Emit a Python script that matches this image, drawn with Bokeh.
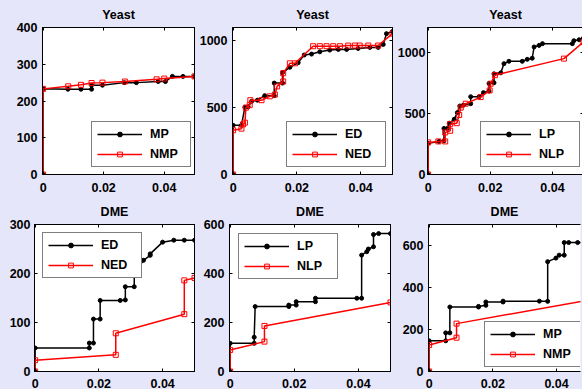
from bokeh.plotting import figure
from bokeh.layouts import column, row
from bokeh.models import (FixedTicker, LinearAxis, Legend, LegendItem, Range1d,
                          GlobalInlineStyleSheet, CustomJSTickFormatter)
from bokeh.embed import file_html
from bokeh.resources import INLINE

FONT = "Liberation Sans"
BG = "#e6e6fa"

# ---------------- data ----------------
# Yeast: MP vs NMP
y_mp_x = [0, 0, 0.0082, 0.0125, 0.016, 0.016, 0.0196, 0.0268, 0.0308, 0.038, 0.0404, 0.0427, 0.0462, 0.05]
y_mp_y = [0, 233, 232, 232, 232, 243, 243, 250, 250, 253, 253, 267, 267, 267]
y_nmp_x = [0, 0, 0.0083, 0.0125, 0.016, 0.0196, 0.027, 0.0375, 0.04, 0.05]
y_nmp_y = [0, 233, 240, 244, 249, 250, 253, 259, 261, 267]

# Yeast: ED vs NED
y_ed_x = [0, 0, 0.0026, 0.0037, 0.0047, 0.0058, 0.0076, 0.0099, 0.0129, 0.0129,
          0.0155, 0.0155, 0.0178, 0.0204, 0.0223, 0.0246, 0.0272, 0.0303, 0.033, 0.0356,
          0.0392, 0.0429, 0.0455, 0.0471, 0.0481, 0.05]
y_ed_y = [0, 368, 368, 504, 507, 548, 556, 590, 590, 684,
          684, 763, 802, 837, 894, 901, 918, 931, 936, 936,
          943, 951, 951, 973, 1054, 1070]
y_ned_x = [0, 0, 0.0026, 0.0031, 0.0037, 0.004, 0.0052, 0.0054, 0.0089, 0.0115,
           0.0131, 0.0138, 0.0157, 0.0157, 0.0178, 0.0194, 0.0251, 0.0272, 0.0293, 0.0314,
           0.0335, 0.0361, 0.0382, 0.0397, 0.0424, 0.0455, 0.05]
y_ned_y = [0, 331, 343, 375, 388, 500, 519, 556, 556, 585,
           598, 659, 696, 758, 832, 832, 960, 960, 960, 960,
           960, 965, 965, 965, 965, 965, 1054]

# Yeast: LP vs NLP
y_lp_x = [0, 0, 0.0035, 0.0051, 0.0051, 0.0062, 0.0068, 0.0084, 0.0094, 0.0102,
          0.0113, 0.0137, 0.0137, 0.0164, 0.0178, 0.0196, 0.0196, 0.0212, 0.0212, 0.0234,
          0.0244, 0.026, 0.0303, 0.0319, 0.0335, 0.0341, 0.0357, 0.0368, 0.0464, 0.0469,
          0.0486, 0.05]
y_lp_y = [0, 254, 270, 275, 376, 376, 419, 451, 505, 559,
          565, 578, 635, 635, 668, 681, 743, 749, 822, 830,
          905, 924, 924, 940, 949, 1041, 1054, 1068, 1068, 1092,
          1100, 1114]
y_nlp_x = [0, 0, 0.0033, 0.0055, 0.0055, 0.0071, 0.0071, 0.0092, 0.01, 0.0105,
           0.0121, 0.0169, 0.0198, 0.0201, 0.0215, 0.0437, 0.05]
y_nlp_y = [0, 262, 270, 270, 343, 357, 411, 419, 486, 546,
           578, 632, 686, 741, 811, 946, 1081]

# DME: ED vs NED
d_ed_x = [0, 0, 0.017, 0.017, 0.0183, 0.0183, 0.0204, 0.0204, 0.0267, 0.0283,
          0.0283, 0.0311, 0.0311, 0.034, 0.0361, 0.0361, 0.04, 0.0435, 0.0468, 0.05]
d_ed_y = [0, 48, 48, 58, 58, 107, 107, 145, 145, 146,
          173, 173, 200, 227, 237, 240, 264, 268, 268, 268]
d_ned_x = [0, 0, 0.0253, 0.0253, 0.0468, 0.0468, 0.05]
d_ned_y = [0, 23, 34, 78, 117, 186, 191]

# DME: LP vs NLP
d_lp_x = [0, 0, 0.0075, 0.0075, 0.0078, 0.0183, 0.0183, 0.0206, 0.0206, 0.0266,
          0.0266, 0.0395, 0.041, 0.041, 0.0426, 0.0431, 0.0447, 0.0447, 0.0463, 0.05]
d_lp_y = [0, 115, 115, 140, 265, 265, 271, 271, 285, 285,
          299, 299, 299, 475, 489, 500, 509, 559, 563, 563]
d_nlp_x = [0, 0, 0.0107, 0.0107, 0.05]
d_nlp_y = [0, 88, 122, 186, 282]

# DME: MP vs NMP
d_mp_x = [0, 0, 0.0052, 0.0052, 0.0065, 0.0065, 0.0155, 0.0155, 0.0178, 0.0178,
          0.0232, 0.0232, 0.0346, 0.0372, 0.0372, 0.0398, 0.0408, 0.0424, 0.0424, 0.0438,
          0.0466, 0.05]
d_mp_y = [0, 146, 146, 184, 184, 307, 307, 310, 315, 331,
          331, 335, 335, 334, 523, 540, 554, 554, 614, 614,
          614, 614]
d_nmp_x = [0, 0, 0.0086, 0.0086, 0.05]
d_nmp_y = [0, 126, 161, 228, 340]

x_ticks = [0, 0.02, 0.04]


def style_axis(ax, ticks, show_labels, standoff=5, xfmt=False):
    ax.ticker = FixedTicker(ticks=ticks)
    ax.major_tick_in = 3
    ax.major_tick_out = 0
    ax.minor_tick_line_color = None
    ax.axis_line_color = "black"
    ax.axis_line_width = 1
    ax.major_tick_line_color = "black"
    ax.major_label_text_font = FONT
    ax.major_label_text_font_style = "bold"
    ax.major_label_text_font_size = "12.5px"
    if show_labels:
        ax.major_label_text_color = "black"
        ax.major_label_standoff = standoff
    else:
        ax.major_label_text_color = None
        ax.major_label_standoff = 0
    if xfmt:
        ax.formatter = CustomJSTickFormatter(code="return Math.abs(tick) < 1e-9 ? '0' : tick.toFixed(2);")


def panel(title, x1, y1, l1, x2, y2, l2, xend, yend, yticks, fw, bl, tb, bb,
          loc, tstand, ystand=5, xstand=8, open_right=False):
    p = figure(frame_width=fw, frame_height=147,
               x_range=Range1d(-0.0002, xend), y_range=Range1d(0, yend),
               output_backend="svg", toolbar_location=None,
               min_border_left=bl, min_border_right=2,
               min_border_top=tb, min_border_bottom=bb,
               background_fill_color="white", border_fill_color=BG,
               outline_line_color=None if open_right else "black")
    p.grid.visible = False
    p.title.text = title
    p.title.align = "center"
    p.title.text_font = FONT
    p.title.text_font_style = "bold"
    p.title.text_font_size = "12.5px"
    p.title.text_color = "black"
    p.title.standoff = tstand

    style_axis(p.xaxis[0], x_ticks, True, xstand, xfmt=True)
    style_axis(p.yaxis[0], yticks, True, ystand)
    top = LinearAxis()
    style_axis(top, x_ticks, False)
    p.add_layout(top, "above")
    if not open_right:
        right = LinearAxis()
        style_axis(right, yticks, False)
        p.add_layout(right, "right")

    r1 = p.line(x1, y1, line_color="black", line_width=1.5)
    s1 = p.scatter(x1, y1, marker="circle", size=4, fill_color="black", line_color="black")
    r2 = p.line(x2, y2, line_color="red", line_width=1.5)
    s2 = p.scatter(x2, y2, marker="square", size=5, fill_color=None, line_color="red", line_width=1)

    leg = Legend(items=[LegendItem(label=l1, renderers=[r1, s1]),
                        LegendItem(label=l2, renderers=[r2, s2])],
                 location=loc, margin=0, padding=5, spacing=6,
                 glyph_width=45, glyph_height=12, label_height=12,
                 label_width=35, label_standoff=8,
                 label_text_font=FONT, label_text_font_style="bold",
                 label_text_font_size="12.5px", label_text_color="black",
                 border_line_color="black", border_line_width=1,
                 background_fill_color="white", background_fill_alpha=1)
    p.add_layout(leg)
    return p


f1 = panel("Yeast", y_mp_x, y_mp_y, "MP", y_nmp_x, y_nmp_y, "NMP",
           0.05, 400, [0, 100, 200, 300, 400], 152, 42, 27, 23, (49, 7), 11)
f2 = panel("Yeast", y_ed_x, y_ed_y, "ED", y_ned_x, y_ned_y, "NED",
           0.05, 1100, [0, 500, 1000], 160, 34, 27, 23, (54, 7), 11)
f3 = panel("Yeast", y_lp_x, y_lp_y, "LP", y_nlp_x, y_nlp_y, "NLP",
           0.05, 1200, [0, 500, 1000], 156, 32, 27, 23, (53, 7), 11, ystand=2)

f4 = panel("DME", d_ed_x, d_ed_y, "ED", d_ned_x, d_ned_y, "NED",
           0.05, 300, [0, 100, 200, 300], 160, 34, 26, 18, (8, 93), 11, ystand=4, xstand=7)
f5 = panel("DME", d_lp_x, d_lp_y, "LP", d_nlp_x, d_nlp_y, "NLP",
           0.05, 600, [0, 200, 400, 600], 161, 33, 26, 18, (9, 92), 11, xstand=7)
f6 = panel("DME", d_mp_x, d_mp_y, "MP", d_nmp_x, d_nmp_y, "NMP",
           0.0475, 700, [0, 200, 400, 600], 152, 36, 26, 18, (56, 4), 11, xstand=7, open_right=True)

layout = column(row(f1, f2, f3, spacing=0), row(f4, f5, f6, spacing=0), spacing=0,
                stylesheets=[GlobalInlineStyleSheet(css="html, body { background-color: #e6e6fa; }")])

open("out.html", "w").write(file_html(layout, INLINE))
